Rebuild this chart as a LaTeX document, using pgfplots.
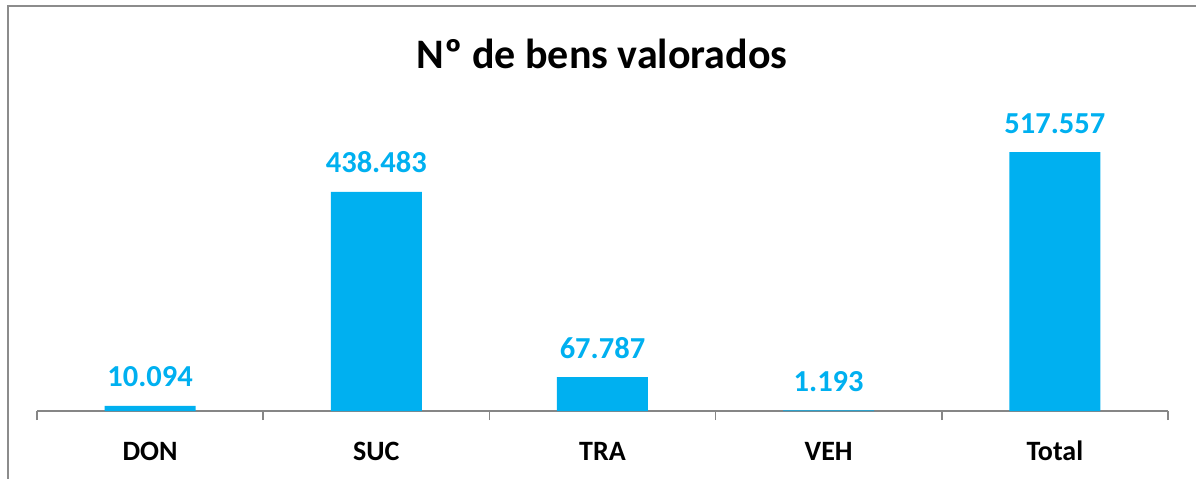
\documentclass[border=0pt]{standalone}
\usepackage{pgfplots}
\pgfplotsset{compat=1.18}
\usepackage{fontspec}
\setmainfont{Carlito}
\definecolor{barblue}{HTML}{00B0F0}
\definecolor{framegray}{HTML}{8C8C8C}
\definecolor{axisgray}{HTML}{868686}
\begin{document}
\begin{tikzpicture}
\path[use as bounding box] (0,0) rectangle (1196bp,-479bp);
\draw[framegray, line width=2bp] (7.5bp,-480bp) -- (7.5bp,-6bp) -- (1197bp,-6bp);
\node[font=\fontsize{42bp}{50bp}\selectfont\bfseries] at (602bp,-54bp) {Nº de bens valorados};
\begin{axis}[
  at={(37bp,-411bp)}, anchor=south west,
  scale only axis, width=1131bp, height=300bp,
  xmin=-0.5, xmax=4.5, ymin=0, ymax=600000,
  axis x line=bottom, axis y line=none,
  axis line style={axisgray, line width=1.5bp, -},
  xtick={0,1,2,3,4},
  xticklabels={DON,SUC,TRA,VEH,Total},
  major tick length=0pt,
  minor xtick={-0.5,0.5,1.5,2.5,3.5,4.5},
  minor tick length=9bp,
  tick align=outside,
  minor tick style={axisgray, line width=1.5bp},
  xticklabel style={font=\fontsize{28bp}{33bp}\selectfont\bfseries, anchor=base, yshift=-49bp},
  ytick=\empty,
  ybar, bar width=91bp,
  nodes near coords,
  every node near coord/.append style={font=\fontsize{30.5bp}{36bp}\selectfont\bfseries, text=barblue, anchor=base, yshift=19bp, inner sep=0pt},
  /pgf/number format/.cd, 1000 sep={.}, fixed, assume math mode=true,
]
\addplot[fill=barblue, draw=none] coordinates {(0,10094) (1,438483) (2,67787) (3,1193) (4,517557)};
\end{axis}
\end{tikzpicture}
\end{document}
